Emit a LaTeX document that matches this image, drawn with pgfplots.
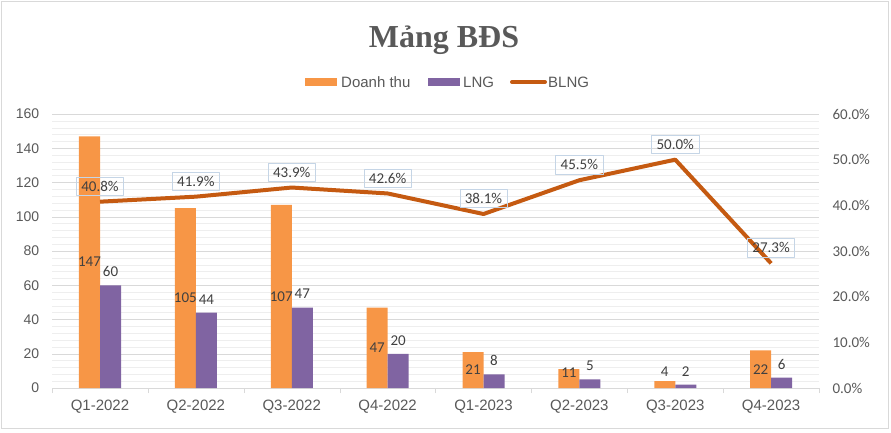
\documentclass[border=0pt]{standalone}
\usepackage{fontspec}
\setmainfont{Liberation Sans}
\newfontfamily\calibri{Carlito}
\newfontfamily\titlefont{Liberation Serif}
\usepackage{pgfplots}
\usepackage{pgfplotstable}
\pgfplotsset{compat=1.18}

\definecolor{doanhthu}{HTML}{F79646}
\definecolor{lng}{HTML}{8064A2}
\definecolor{blng}{HTML}{C55A11}
\definecolor{txt}{HTML}{595959}
\definecolor{lab}{HTML}{404040}
\definecolor{gridmaj}{HTML}{D9D9D9}
\definecolor{gridmin}{HTML}{EEEEEE}
\definecolor{boxc}{HTML}{C5D5E6}

% x, quarter, revenue, net profit, net margin (%)
\pgfplotstableread{
x q rev lng blng
0 Q1-2022 147 60 40.8
1 Q2-2022 105 44 41.9
2 Q3-2022 107 47 43.9
3 Q4-2022 47 20 42.6
4 Q1-2023 21 8 38.1
5 Q2-2023 11 5 45.5
6 Q3-2023 4 2 50.0
7 Q4-2023 22 6 27.3
}\data

\tikzset{revlab/.style={font=\calibri\fontsize{15}{18}\selectfont, text=lab, xshift=-10.5pt}}
\pgfplotsset{/pgf/number format/assume math mode=true}

\begin{document}
\begin{tikzpicture}
\useasboundingbox (0pt,0pt) rectangle (891pt,432pt);
\draw[gridmaj] (1pt,3.5pt) rectangle (888pt,431pt);

% title
\node[font=\titlefont\bfseries\fontsize{32}{36}\selectfont, text=txt, anchor=base] at (444pt,384pt) {Mảng BĐS};

% legend
\fill[doanhthu] (305pt,346pt) rectangle (337pt,354pt);
\node[anchor=west, inner sep=0pt, font=\fontsize{15}{18}\selectfont, text=txt] at (341pt,350pt) {Doanh thu};
\fill[lng] (428pt,346pt) rectangle (460pt,354pt);
\node[anchor=west, inner sep=0pt, font=\fontsize{15}{18}\selectfont, text=txt] at (463pt,350pt) {LNG};
\draw[blng, line width=4pt, line cap=round] (512pt,350pt) -- (545pt,350pt);
\node[anchor=west, inner sep=0pt, font=\fontsize{15}{18}\selectfont, text=txt] at (548pt,350pt) {BLNG};

\begin{axis}[
    at={(100pt,44pt)}, anchor=origin, scale only axis,
    width=767pt, height=274pt,
    ybar=0pt, bar width=21pt,
    xmin=-0.5, xmax=7.5, ymin=0, ymax=160,
    xtick={0,...,7}, xticklabels from table={\data}{q},
    minor xtick={-0.5,0.5,...,7.5},
    ytick={0,20,...,160}, minor y tick num=4,
    ymajorgrids, yminorgrids,
    major grid style={gridmaj},
    minor grid style={gridmin},
    axis x line*=bottom, axis y line*=left,
    x axis line style={draw=gridmaj,-},
    y axis line style={draw=none},
    tick align=outside,
    major x tick style={draw=none},
    minor x tick style={draw=gridmaj},
    minor tick length=5pt,
    major y tick style={draw=none},
    minor y tick style={draw=none},
    xticklabel style={font=\fontsize{15}{18}\selectfont, text=txt, yshift=-4pt},
    yticklabel style={font=\fontsize{14}{17}\selectfont, text=txt, xshift=-5pt},
  ]
  \addplot[fill=doanhthu, draw=none] table[x=x, y=rev] {\data};
  \addplot[fill=lng, draw=none,
    nodes near coords,
    every node near coord/.append style={font=\calibri\fontsize{15}{18}\selectfont, text=lab, yshift=5pt}]
    table[x=x, y=lng] {\data};
  % revenue labels, inside the orange bars
  \node[revlab] at (axis cs:0,73.5) {147};
  \node[revlab] at (axis cs:1,52.5) {105};
  \node[revlab] at (axis cs:2,53.5) {107};
  \node[revlab] at (axis cs:3,23.5) {47};
  \node[revlab] at (axis cs:4,10.5) {21};
  \node[revlab] at (axis cs:5,8.8) {11};
  \node[revlab] at (axis cs:6,9.3) {4};
  \node[revlab] at (axis cs:7,11) {22};
\end{axis}

\begin{axis}[
    at={(100pt,44pt)}, anchor=origin, scale only axis,
    width=767pt, height=274pt,
    xmin=-0.5, xmax=7.5, ymin=0, ymax=60,
    axis x line=none, axis y line*=right,
    y axis line style={draw=none},
    ytick={0,10,...,60},
    major y tick style={draw=none},
    yticklabel={\pgfmathprintnumber[fixed,fixed zerofill,precision=1]{\tick}\%},
    yticklabel style={font=\calibri\fontsize{15}{18}\selectfont, text=txt, anchor=west, xshift=10pt},
  ]
  \addplot[blng, line width=4pt, line join=round, mark=none,
    nodes near coords={\pgfmathprintnumber[fixed,fixed zerofill,precision=1]{\pgfplotspointmeta}\%},
    every node near coord/.append style={font=\calibri\fontsize{15}{18}\selectfont, text=lab,
      draw=boxc, line width=0.6pt, anchor=south, yshift=6pt, inner xsep=5pt, inner ysep=4pt}]
    table[x=x, y=blng] {\data};
\end{axis}
\end{tikzpicture}
\end{document}
